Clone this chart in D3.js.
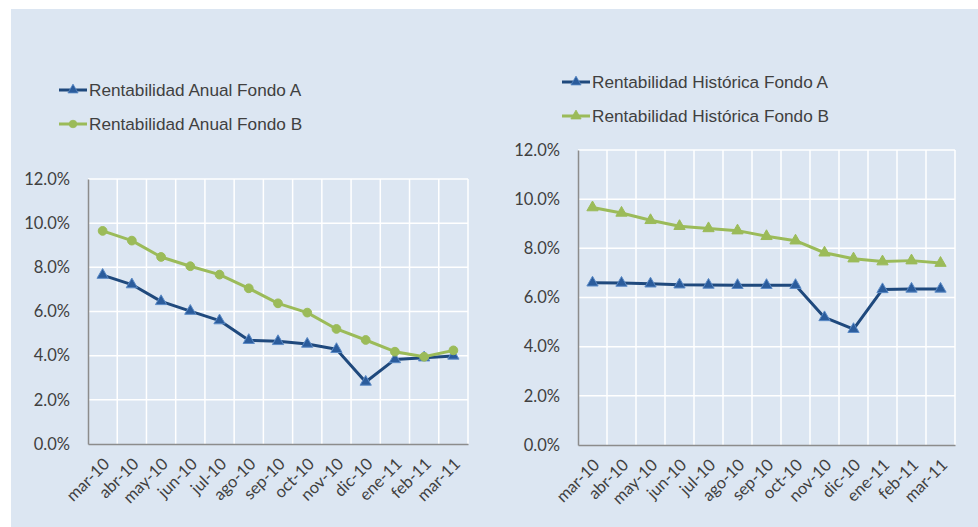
<!DOCTYPE html>
<html>
<head>
<meta charset="utf-8">
<script src="https://cdn.jsdelivr.net/npm/d3@7"></script>
<style>
  body { margin: 0; background: #fff; }
  svg { display: block; }
  .tick text { font-family: "Lato", "Open Sans", sans-serif; font-size: 16.5px; fill: #404040; }
  .legend text { font-family: "Liberation Sans", Arial, sans-serif; font-size: 17.2px; fill: #404040; }
</style>
</head>
<body>
<svg id="chart" width="978" height="527"></svg>
<script>
var months = ["mar-10", "abr-10", "may-10", "jun-10", "jul-10", "ago-10", "sep-10",
              "oct-10", "nov-10", "dic-10", "ene-11", "feb-11", "mar-11"];
var yTicks = [0, 2, 4, 6, 8, 10, 12];

// rentabilidad anual (%)
var anualA = [7.65, 7.22, 6.46, 6.02, 5.59, 4.70, 4.65, 4.53, 4.29, 2.81, 3.83, 3.91, 3.99];
var anualB = [9.65, 9.21, 8.47, 8.05, 7.67, 7.05, 6.37, 5.95, 5.21, 4.71, 4.18, 3.95, 4.24];

// rentabilidad historica (%)
var histA = [6.60, 6.59, 6.56, 6.52, 6.51, 6.50, 6.50, 6.50, 5.19, 4.71, 6.33, 6.35, 6.35];
var histB = [9.66, 9.44, 9.14, 8.90, 8.81, 8.72, 8.49, 8.31, 7.82, 7.58, 7.46, 7.50, 7.40];

var blue = "#1F497D", blueMark = "#2B5C9C", blueEdge = "#5B8AC6", green = "#9BBB59";

var svg = d3.select("#chart");
svg.append("rect").attr("x", 11).attr("y", 9).attr("width", 967).attr("height", 518).attr("fill", "#DCE6F2");

function drawChart(cfg) {
  var g = svg.append("g");
  var x = d3.scaleBand().domain(months).range([cfg.x0, cfg.x1]);
  var y = d3.scaleLinear().domain([0, 12]).range([cfg.y1, cfg.y0]);

  // grid
  g.selectAll(".hg").data(yTicks.slice(1)).enter().append("line")
    .attr("x1", cfg.x0).attr("x2", cfg.x1)
    .attr("y1", function(d) { return y(d); }).attr("y2", function(d) { return y(d); })
    .attr("stroke", "#fff").attr("stroke-width", 1.5);
  g.selectAll(".vg").data(months.slice(1).concat(["end"])).enter().append("line")
    .attr("x1", function(d, i) { return cfg.x0 + (i + 1) * x.bandwidth(); })
    .attr("x2", function(d, i) { return cfg.x0 + (i + 1) * x.bandwidth(); })
    .attr("y1", cfg.y0).attr("y2", cfg.y1)
    .attr("stroke", "#fff").attr("stroke-width", 1.5);

  // axes
  var yAxis = d3.axisLeft(y).tickValues(yTicks).tickSize(0).tickPadding(18)
    .tickFormat(function(d) { return d.toFixed(1) + "%"; });
  var ya = g.append("g").attr("transform", "translate(" + cfg.x0 + ",0)").call(yAxis);
  ya.select(".domain").attr("stroke", "#8C8C8C").attr("stroke-width", 1.5);

  var xAxis = d3.axisBottom(x).tickSize(0).tickPadding(0);
  var xa = g.append("g").attr("transform", "translate(0," + cfg.y1 + ")").call(xAxis);
  xa.select(".domain").attr("stroke", "#8C8C8C").attr("stroke-width", 1.5);
  xa.selectAll(".tick text")
    .attr("text-anchor", "end")
    .attr("dy", null).attr("y", 0)
    .attr("transform", "translate(8,21) rotate(-45)");

  var line = d3.line()
    .x(function(d, i) { return x(months[i]) + x.bandwidth() / 2; })
    .y(function(d) { return y(d); });

  cfg.series.forEach(function(s) {
    g.append("path").datum(s.values).attr("d", line)
      .attr("fill", "none").attr("stroke", s.color).attr("stroke-width", 3)
      .attr("stroke-linejoin", "round");
    var sym = d3.symbol().type(s.marker === "circle" ? d3.symbolCircle : d3.symbolTriangle)
      .size(s.marker === "circle" ? 60 : 55);
    g.selectAll(null).data(s.values).enter().append("path")
      .attr("d", sym)
      .attr("transform", function(d, i) {
        return "translate(" + (x(months[i]) + x.bandwidth() / 2) + "," + y(d) + ")";
      })
      .attr("fill", s.markFill).attr("stroke", s.markEdge).attr("stroke-width", 1);
  });

  // legend
  var lg = g.append("g").attr("class", "legend");
  cfg.series.forEach(function(s, i) {
    var ly = cfg.legY + i * cfg.legGap;
    lg.append("line").attr("x1", cfg.legX).attr("x2", cfg.legX + 28)
      .attr("y1", ly).attr("y2", ly).attr("stroke", s.color).attr("stroke-width", 3);
    var sym = d3.symbol().type(s.marker === "circle" ? d3.symbolCircle : d3.symbolTriangle)
      .size(45);
    lg.append("path").attr("d", sym)
      .attr("transform", "translate(" + (cfg.legX + 14) + "," + ly + ")")
      .attr("fill", s.markFill).attr("stroke", s.markEdge).attr("stroke-width", 0.8);
    lg.append("text").attr("x", cfg.legX + 30).attr("y", ly).attr("dy", "0.35em").text(s.name);
  });
}

drawChart({
  x0: 88, x1: 468, y0: 179, y1: 444,
  legX: 59, legY: 90, legGap: 34,
  series: [
    { name: "Rentabilidad Anual Fondo A", values: anualA, color: blue, marker: "triangle", markFill: blueMark, markEdge: blueEdge },
    { name: "Rentabilidad Anual Fondo B", values: anualB, color: green, marker: "circle", markFill: green, markEdge: green }
  ]
});

drawChart({
  x0: 578, x1: 955, y0: 150, y1: 445,
  legX: 562, legY: 82, legGap: 34,
  series: [
    { name: "Rentabilidad Histórica Fondo A", values: histA, color: blue, marker: "triangle", markFill: blueMark, markEdge: blueEdge },
    { name: "Rentabilidad Histórica Fondo B", values: histB, color: green, marker: "triangle", markFill: green, markEdge: green }
  ]
});
</script>
</body>
</html>
